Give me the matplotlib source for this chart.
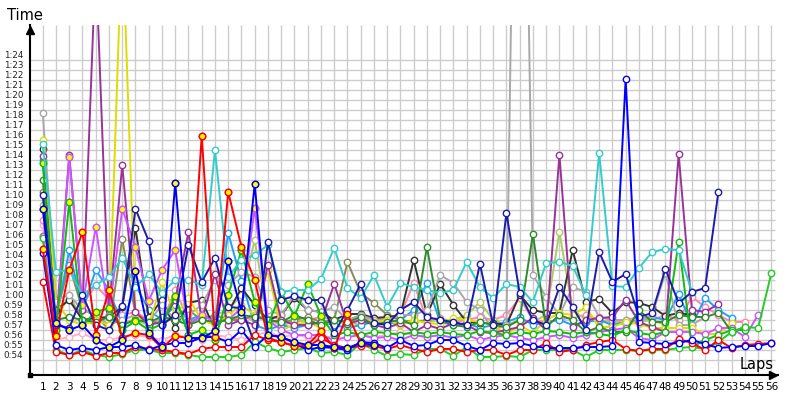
import matplotlib
matplotlib.use('Agg')

import matplotlib.pyplot as plt
import numpy as np

# ------------------------------------------------------------------
# lap times in seconds, one list per driver (lap 1 first)
# ------------------------------------------------------------------
green_low = [66.2, 55.0, 54.5, 55.0, 54.5, 54.3, 54.6, 55.0, 55.0, 54.7,
             54.7, 54.5, 54.3, 54.3, 54.3, 54.5, 55.8, 55.2, 54.8, 55.0,
             55.2, 54.7, 54.8, 54.5, 55.7, 55.0, 54.4, 54.6, 54.5, 55.1,
             55.1, 54.4, 55.3, 54.3, 54.3, 54.4, 54.3, 55.0, 55.0, 55.0,
             55.0, 54.3, 55.0, 55.0, 55.0, 54.9, 55.0, 55.0, 55.2, 55.3,
             55.1, 55.8, 56.8, 57.3, 57.2, 62.7]
blue_low = [64.7, 55.5, 55.0, 55.2, 55.0, 55.3, 55.3, 55.5, 55.0, 55.5,
            55.7, 55.7, 56.3, 56.3, 55.8, 57.0, 55.3, 56.5, 56.3, 55.7,
            55.0, 55.3, 55.2, 55.0, 55.8, 55.7, 55.2, 56.0, 55.4, 55.5,
            56.0, 56.0, 55.4, 55.0, 55.7, 55.6, 55.7, 55.4, 55.2, 55.2,
            55.2, 55.3, 55.3, 55.4, 82.1, 55.8, 55.7, 55.6, 55.7, 56.0,
            55.6, 55.2, 55.3, 55.4, 55.4, 55.7]
red_low = [61.8, 54.8, 54.5, 54.8, 54.4, 54.7, 54.7, 55.3, 55.1, 55.0,
           54.8, 54.6, 55.1, 55.3, 55.3, 55.3, 56.5, 56.0, 55.8, 55.4,
           55.3, 56.2, 55.5, 55.2, 55.4, 55.4, 55.1, 55.5, 55.1, 54.8,
           55.1, 55.1, 54.8, 55.0, 55.0, 54.5, 55.0, 55.0, 55.7, 54.8,
           55.0, 55.5, 55.8, 56.0, 55.1, 54.9, 55.1, 55.1, 56.1, 55.7,
           55.0, 56.0, 55.2, 55.5, 55.6, 55.7]
red_hi = [65.1, 56.4, 63.0, 66.8, 56.5, 61.0, 56.2, 56.7, 56.5, 55.2,
          56.4, 56.2, 76.4, 56.3, 70.8, 65.3, 62.0, 56.2, 55.8, 55.4,
          55.5, 56.9, 55.2, 58.6, 55.7]
purple = [74.4, 57.3, 74.5, 59.0, 94.0, 59.0, 73.5, 58.8, 57.5, 57.8,
          60.0, 66.8, 58.0, 62.6, 57.5, 58.0, 57.5, 63.5, 58.0, 57.5,
          57.5, 57.8, 61.6, 57.6, 58.0, 57.5, 57.2, 57.7, 56.8, 57.5,
          57.1, 57.7, 57.5, 56.8, 56.7, 57.0, 57.3, 58.2, 57.0, 74.5,
          57.3, 58.0, 58.2, 58.3, 60.0, 57.8, 57.3, 56.8, 74.6, 59.0,
          58.8, 59.6]
yellow = [76.0, 59.8, 58.0, 57.5, 58.0, 57.5, 97.0, 58.6, 57.5, 61.8,
          58.5, 60.2, 58.0, 57.5, 58.5, 59.5, 58.5, 63.0, 57.0, 57.5,
          57.8, 57.2, 58.0, 57.5, 58.0, 57.8, 58.0, 57.5, 58.0, 57.7,
          57.6, 58.2, 58.0, 57.8, 57.5, 56.5, 57.5, 56.7, 58.0, 58.7,
          58.5, 59.3, 57.3, 57.3, 57.8, 57.6, 57.2, 57.2, 57.2, 57.2,
          56.6, 56.6, 57.7]
gray = [78.7, 60.0, 60.5, 59.0, 58.5, 57.5, 58.0, 58.5, 57.8, 59.5,
        58.0, 58.5, 59.5, 62.0, 61.5, 62.8, 62.3, 59.0, 58.5, 60.5,
        59.0, 58.8, 59.3, 58.0, 58.5, 58.0, 58.0, 58.5, 58.5, 59.0,
        62.5, 61.7, 59.8, 59.0, 57.0, 57.5, 145.0, 62.5, 60.3, 58.5,
        61.3, 60.8, 58.3, 58.0, 58.0, 57.8, 58.5, 62.7, 57.5, 57.5,
        58.3]
cyan = [75.6, 62.8, 63.0, 60.5, 61.5, 62.3, 64.2, 61.3, 62.6, 60.7,
        62.0, 62.0, 61.5, 75.0, 62.3, 64.0, 64.5, 65.5, 60.8, 61.0,
        61.0, 62.1, 65.2, 61.2, 60.2, 62.5, 59.3, 61.7, 61.3, 61.0,
        60.7, 61.0, 63.8, 61.3, 60.2, 61.6, 61.3, 59.8, 63.7, 63.8,
        63.4, 60.5, 74.7, 61.4, 61.3, 63.2, 64.8, 65.1, 65.0, 60.8]
navy = [70.5, 57.5, 57.2, 60.5, 57.5, 57.0, 59.4, 69.1, 65.9, 57.5,
        58.5, 65.5, 61.8, 64.2, 59.3, 59.2, 55.6, 65.8, 60.0, 60.4,
        60.0, 60.0, 56.7, 59.0, 61.6, 57.7, 57.5, 59.0, 59.8, 58.3,
        58.0, 57.8, 57.5, 63.6, 57.5, 68.7, 60.7, 58.0, 57.5, 61.3,
        59.3, 57.0, 64.8, 61.8, 62.6, 58.3, 58.7, 63.1, 59.7, 60.8,
        61.2, 70.8]
blue_hi = [69.1, 57.7, 57.0, 57.5, 56.0, 55.3, 56.0, 62.9, 56.7, 55.3,
           71.7, 56.2, 56.2, 56.9, 63.9, 58.8, 71.6, 56.5, 56.3, 55.8,
           55.5, 55.5, 55.3, 55.2, 55.7, 55.5]
green_hi = [73.7, 57.0, 69.8, 57.5, 58.8, 59.2, 57.0, 57.9, 57.0, 57.6,
            60.4, 56.5, 57.0, 56.0, 60.5, 65.0, 59.8, 57.5, 60.8, 58.4,
            61.6, 58.4, 56.5, 56.8, 56.5, 56.8, 56.7, 56.5, 56.8, 56.6,
            56.8, 56.6, 56.5, 56.9, 56.7, 56.5, 56.8, 56.6, 56.9, 56.8,
            56.6, 56.8, 56.6, 56.4, 57.0, 56.7, 56.5, 56.8, 65.8, 55.3,
            56.0, 56.5, 57.0, 57.0]
dark_green = [72.0, 58.0, 58.3, 58.0, 57.8, 58.3, 57.5, 58.0, 57.8, 58.3,
              58.0, 57.5, 58.0, 57.8, 58.0, 58.5, 58.3, 58.0, 57.8, 58.5,
              58.0, 57.5, 58.0, 57.8, 58.3, 57.5, 57.8, 58.0, 57.5, 65.3,
              58.0, 57.5, 57.3, 57.8, 57.5, 57.3, 58.0, 66.6, 57.3, 58.5,
              58.0, 56.8, 57.3, 56.8, 56.8, 59.0, 57.8, 57.8, 58.5, 58.3,
              58.3, 58.7, 56.8, 57.3]
dark_gray = [75.1, 59.0, 60.0, 58.0, 58.2, 58.3, 59.3, 67.2, 58.3, 60.0,
             57.2, 59.7, 60.0, 57.0, 58.8, 61.2, 59.5, 58.0, 58.5, 60.2,
             59.0, 58.8, 58.0, 58.6, 58.6, 58.2, 58.3, 58.5, 64.0, 58.5,
             61.6, 59.5, 57.8, 57.7, 57.7, 57.5, 60.5, 59.0, 58.7, 58.7,
             65.0, 59.8, 60.1, 58.7, 59.8, 59.7, 59.3, 58.4, 58.7, 58.5]
olive = [70.8, 58.5, 63.5, 59.0, 58.5, 57.0, 66.1, 58.5, 58.0, 57.5,
         58.5, 59.0, 58.0, 58.5, 58.0, 58.0, 58.5, 58.0, 57.8, 58.0,
         58.3, 57.8, 58.0, 63.8, 60.7, 59.7, 58.5, 58.0, 57.8, 58.0]
light_olive = [69.5, 58.0, 60.5, 58.0, 57.5, 58.5, 57.8, 58.0, 57.5, 58.0,
               58.5, 57.8, 58.0, 58.5, 59.0, 60.5, 66.0, 58.0, 57.5, 57.8,
               58.0, 57.5, 58.0, 57.8, 57.5, 58.0, 57.8, 57.5, 58.0, 57.8,
               58.0, 58.0, 58.5, 59.8, 58.0, 57.5, 58.0, 57.8, 58.5, 66.8,
               59.0, 58.0, 57.8, 58.0, 57.5, 57.8, 58.0, 57.5]
violet = [66.4, 56.5, 74.3, 59.5, 67.3, 58.5, 69.1, 65.3, 59.9, 63.0,
          65.0, 57.5, 58.5, 57.8, 58.0, 59.2, 69.2, 58.0, 57.0, 56.5,
          56.5, 56.5, 56.0, 56.3, 56.5, 56.2, 56.3, 56.0, 56.5, 56.3,
          56.5, 56.2, 56.5, 56.0, 56.3, 56.5, 56.2, 56.0, 56.3, 56.5,
          56.2, 56.5, 56.8, 57.0, 57.2, 56.2, 56.0, 56.8, 56.8, 56.8,
          56.6, 57.2, 57.2, 56.3, 58.5]
light_blue = [74.0, 58.0, 65.0, 59.0, 63.0, 61.0, 57.5, 61.5, 59.0, 58.0,
              59.5, 58.0, 58.5, 58.0, 66.7, 61.9, 57.5, 57.0, 57.5, 57.2,
              57.5, 57.8, 57.5, 57.2, 57.5, 57.8, 57.5, 58.0, 59.0, 61.7,
              57.8, 57.5, 57.7, 57.2, 57.5, 57.8, 58.3, 57.5, 57.8, 58.0,
              57.5, 57.8, 58.0, 57.5, 57.8, 58.0, 58.3, 58.0, 60.6, 57.5,
              60.2, 59.0, 58.2]
pink = [68.0, 59.5, 63.7, 59.5, 61.5, 60.0, 58.5, 58.8, 58.0, 57.8,
        61.0, 58.0, 58.0, 58.5, 58.0, 58.3, 58.0, 58.5, 58.0, 57.8,
        58.0, 58.3, 58.0, 57.8, 58.0, 58.2, 58.0, 58.5, 61.7, 58.0,
        58.2, 57.8, 58.0, 58.3, 58.0, 58.5, 60.2, 58.0, 57.8, 58.0,
        58.3, 58.5, 58.0, 57.8, 58.0, 58.3, 58.0, 58.5, 58.0, 60.3,
        59.3, 58.5, 57.8, 57.8]
light_pink = [67.5, 56.0, 56.3, 56.7, 56.0, 56.0, 56.3, 56.5, 56.3, 56.0,
              56.5, 56.3, 56.0, 56.5, 56.3, 56.0, 56.5, 56.8, 56.3, 56.5,
              56.3, 56.0, 56.5, 56.8, 56.5, 56.3, 56.5, 56.8, 56.5, 56.3]

lap_labels = [str(i) for i in range(1, 57)]
time_ticks = list(range(54, 85))  # 0:54 .. 1:24

# (data, colour, how many first laps have yellow markers)
drivers = [
    (light_pink, '#ffb0c8', 0),
    (pink, '#ff88aa', 0),
    (light_olive, '#aacc66', 0),
    (olive, '#8a8a58', 0),
    (light_blue, '#1ea0ff', 0),
    (dark_gray, '#333333', 0),
    (gray, '#a8a8a8', 0),
    (yellow, '#dddd00', 0),
    (purple, '#993399', 0),
    (violet, '#cc55ff', 17),
    (dark_green, '#2e8b2e', 0),
    (green_hi, '#11bb11', 22),
    (cyan, '#33cccc', 0),
    (navy, '#1c1caa', 0),
    (green_low, '#22cc22', 0),
    (red_low, '#ff0000', 0),
    (blue_low, '#0000ff', 0),
    (red_hi, '#ff0000', 99),
    (blue_hi, '#0000ee', 99),
]

# --- figure / axes layout ---
fig = plt.figure(figsize=(8, 4), dpi=100)
ax = fig.add_axes([29.5 / 800, 25 / 400, (778 - 29.5) / 800, 350 / 400])
ax.set_xlim(0, 56.5)
ax.set_ylim(52.5, 87.5)

# grid
ax.vlines(range(1, 57), 52.5, 87.5, color='#cccccc', lw=1.0, zorder=0)
ax.hlines(time_ticks, 0, 56.3, color='#cccccc', lw=1.0, zorder=0)

# lines
for data, col, n_yellow in drivers:
    laps = np.arange(1, len(data) + 1)
    ax.plot(laps, data, color=col, lw=1.4, marker='o', ms=4.6,
            mfc='white', mec=col, mew=1.0, zorder=2)
    if n_yellow:
        k = min(n_yellow, len(data))
        ax.plot(laps[:k], data[:k], ls='none', marker='o', ms=4.6,
                mfc='#ffff00', mec=col, mew=1.0, zorder=2)

# axes decoration
for s in ['top', 'right']:
    ax.spines[s].set_visible(False)
for s in ['left', 'bottom']:
    ax.spines[s].set_linewidth(1.5)
    ax.spines[s].set_color('black')

ax.set_xticks(range(1, 57))
ax.set_xticklabels(lap_labels, fontsize=7.5)
ax.set_yticks(time_ticks)
ax.set_yticklabels(['%d:%02d' % (t // 60, t % 60) for t in time_ticks],
                   fontsize=6.3, color='#222222')
ax.tick_params(axis='both', length=0)
ax.tick_params(axis='x', pad=5)
ax.tick_params(axis='y', pad=18.5)
for lab in ax.get_yticklabels():
    lab.set_horizontalalignment('left')
    lab.set_verticalalignment('bottom')

# arrows and origin
ax.plot([0], [87.0], marker='^', ms=6, color='black', clip_on=False, zorder=5)
ax.plot([56.15], [52.5], marker='>', ms=6, color='black', clip_on=False, zorder=5)
ax.plot([0], [52.5], marker='s', ms=2.5, color='black', clip_on=False, zorder=5)

fig.text(7 / 800, 1 - 15 / 400, 'Time', fontsize=10.5, va='center', ha='left')
fig.text(774 / 800, 1 - 364 / 400, 'Laps', fontsize=10.5, va='center', ha='right')

plt.savefig('out.png', dpi=100)
